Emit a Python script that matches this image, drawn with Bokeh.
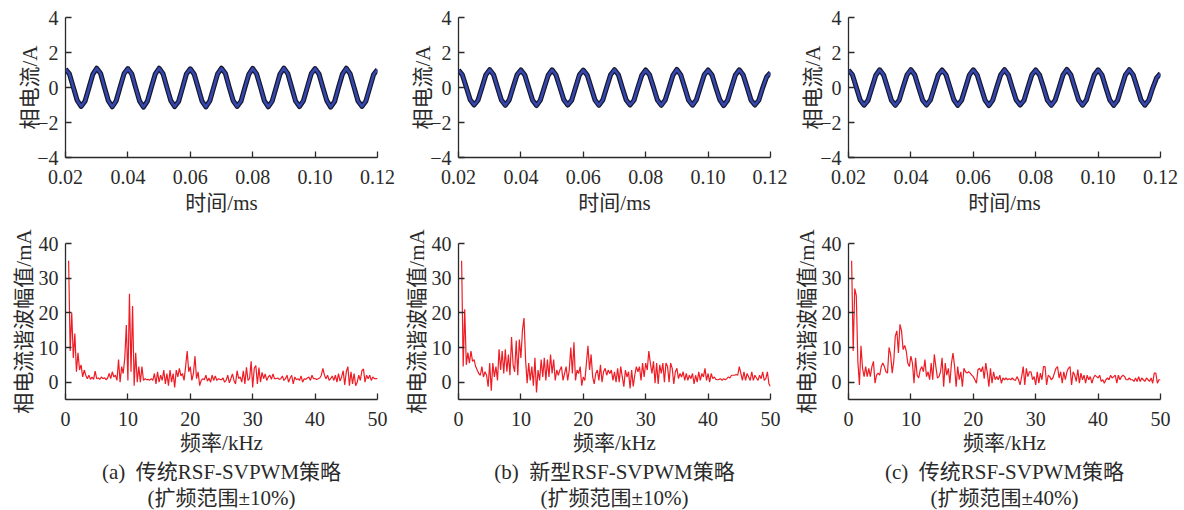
from bokeh.plotting import figure
from bokeh.layouts import column, row
from bokeh.models import Range1d, FixedTicker, Title
from bokeh.embed import file_html
from bokeh.resources import INLINE

# ---------------- data ----------------
time_ticks = [0.02, 0.04, 0.06, 0.08, 0.10, 0.12]
time_tick_labels = ["0.02", "0.04", "0.06", "0.08", "0.10", "0.12"]
current_ticks = [-4, -2, 0, 2, 4]
current_tick_labels = ["\u22124", "\u22122", "0", "2", "4"]
freq_ticks = [0, 10, 20, 30, 40, 50]
freq_tick_labels = ["0", "10", "20", "30", "40", "50"]
amp_ticks = [0, 10, 20, 30, 40]
amp_tick_labels = ["0", "10", "20", "30", "40"]

# sample grids (time in axis units, frequency in kHz)
t = [0.02 + 0.00125 * i for i in range(81)]
f = [0.5 + 0.25 * i for i in range(199)]

wave_a = [
    1.05, 0.78, 0.02, -0.74, -1.08, -0.79, -0.03, 0.75,
    1.10, 0.80, 0.00, -0.77, -1.10, -0.76, 0.02, 0.78,
    1.08, 0.77, -0.02, -0.78, -1.12, -0.78, 0.00, 0.76,
    1.10, 0.79, 0.01, -0.75, -1.09, -0.80, -0.02, 0.77,
    1.07, 0.76, 0.00, -0.78, -1.11, -0.77, 0.01, 0.78,
    1.10, 0.80, -0.01, -0.76, -1.08, -0.79, 0.00, 0.75,
    1.09, 0.78, 0.02, -0.77, -1.10, -0.78, -0.01, 0.77,
    1.11, 0.79, 0.00, -0.78, -1.09, -0.76, 0.01, 0.78,
    1.08, 0.77, -0.01, -0.75, -1.12, -0.80, 0.00, 0.76,
    1.10, 0.78, 0.01, -0.77, -1.08, -0.79, -0.02, 0.74,
    1.02]
wave_b = [
    1.00, 0.72, 0.02, -0.70, -1.00, -0.73, -0.02, 0.71,
    1.02, 0.73, 0.00, -0.72, -1.02, -0.71, 0.01, 0.72,
    1.00, 0.71, -0.02, -0.73, -1.03, -0.72, 0.00, 0.70,
    1.01, 0.72, 0.01, -0.70, -1.00, -0.74, -0.01, 0.72,
    0.99, 0.71, 0.00, -0.72, -1.02, -0.71, 0.01, 0.73,
    1.02, 0.73, -0.01, -0.71, -1.00, -0.73, 0.00, 0.70,
    1.00, 0.72, 0.02, -0.72, -1.02, -0.72, -0.01, 0.71,
    1.03, 0.72, 0.00, -0.73, -1.01, -0.70, 0.01, 0.72,
    1.00, 0.71, -0.01, -0.70, -1.03, -0.73, 0.00, 0.71,
    1.01, 0.72, 0.01, -0.72, -1.00, -0.73, -0.02, 0.60,
    0.85]
wave_c = [
    1.00, 0.73, 0.01, -0.71, -1.01, -0.74, -0.02, 0.70,
    1.01, 0.72, 0.00, -0.73, -1.02, -0.72, 0.02, 0.72,
    1.02, 0.71, -0.01, -0.72, -1.00, -0.71, 0.00, 0.71,
    1.00, 0.73, 0.02, -0.70, -1.02, -0.73, -0.01, 0.72,
    1.01, 0.72, 0.00, -0.72, -1.03, -0.72, 0.01, 0.71,
    1.02, 0.72, -0.02, -0.71, -1.00, -0.74, 0.00, 0.72,
    1.00, 0.71, 0.01, -0.73, -1.02, -0.72, -0.01, 0.72,
    1.03, 0.73, 0.00, -0.72, -1.01, -0.71, 0.02, 0.71,
    1.01, 0.72, -0.01, -0.71, -1.02, -0.73, 0.00, 0.72,
    1.02, 0.72, 0.01, -0.72, -1.01, -0.72, -0.03, 0.55,
    0.80]

spec_a = [
    35, 9,
    20, 7, 14, 3,
    8.5, 3.5, 5, 1.5,
    3.5, 2, 1, 2,
    0.8, 1.5, 0.8, 3.2,
    1, 1.2, 0.8, 1.5,
    1, 1.3, 0.7, 1.2,
    2.5, 1, 3, 1.5,
    2, 0.5, 6.5, 0,
    4.5, 2.5, 7, 16.5,
    0.5, 25.5, 3, 22,
    -1, 8.5, 0, 4.5,
    0, 4.5, 0.5, 1,
    0.7, 0.8, 0.6, 1,
    0.5, 2.5, -0.5, 3,
    0, 2, 0.5, 3.5,
    -0.5, 2.5, -1, 3.5,
    0, 2.5, -1.5, 3.5,
    1.5, 4, 1.8, 2.5,
    0.5, 4.5, 9, 3,
    4.5, 0.5, 2.5, 7.5,
    1, 3, -1, 0.5,
    1, 0.7, 2, 0.3,
    1.2, 0, 2, 0.5,
    1.8, 0.5, 1, 0.8,
    0.7, 1.2, 0, 0.5,
    2, -0.2, 1, 2.4,
    0.5, -0.5, 3.3, 1,
    1.5, 0, 3.3, -0.5,
    4.3, 0.5, 1, 6,
    -1.5, 4, 4.8, -0.5,
    4.2, 0, 2.8, 1,
    2.4, 0.5, 1.5, 2,
    0.8, 2.4, 1, 1,
    1.2, 0.8, 1, 1.8,
    0.5, 1, 2, 0,
    1.2, 2, -0.5, 1.5,
    0.7, 1, 0.5, 1.8,
    0, 1, 0.8, 1.2,
    1.5, 0.5, 2, 1,
    1, 0.8, 1, 1.2,
    2, 4, 2, 1,
    2, 0.5, 1, 1.8,
    0.5, 2, 0, 2.5,
    0.3, 1.5, 3.3, -0.8,
    3, 4.5, -1, 3,
    -0.5, 2.5, -1, 0,
    2, 0.5, 3.3, 3.8,
    0, 2, 1, 2,
    0.5, 1.5, 1, 1,
    1]

spec_b = [
    35, 4.5,
    21, 5, 8.5, 5.5,
    9, 6, 6.5, 4.5,
    3.5, 2.5, 2, 4.5,
    1.5, 3, 2, -1.3,
    5.5, -2.5, 5.5, 1.5,
    4.5, 0.5, 9.5, 3.5,
    9, 2.5, 9.5, 3,
    8, 2, 13, 5,
    3, 12, 2, 12.3,
    7, 15, 18.5, 6.5,
    -0.3, 5.5, 0.5, 4.5,
    -1, 7, -3, 3.5,
    0.5, 6.5, 1.5, 7,
    0.5, 6.5, 1.5, 8,
    2.5, 6.5, 0.5, 3.5,
    2, 3.5, 4.5, 0.5,
    2.5, 4.5, 0.5, 3.5,
    10, 2.5, 11.5, 0.5,
    3.5, 2.5, 4.5, -1,
    1.5, 0.5, 5.5, 10.5,
    3.5, 8, 1.5, -0.5,
    2.5, 3.5, 0.5, 5,
    0, 3, 4, 2,
    3.5, 2.5, 3.5, 0.5,
    3, 0, 4, 0,
    4.5, 1.5, -1.3, 3.5,
    1.5, 3, -1.8, 3.5,
    -1.2, 2, 4.5, 3,
    4.5, 0.5, 5.5, 1.5,
    5.5, 3.5, 9, 5.5,
    2.5, 6, -0.3, 5.5,
    -0.5, 5, 2.5, 5.5,
    0, 5.5, 4.5, 0,
    5.5, 4, -0.5, 3,
    4, 1, 2.5, 1.5,
    3, 0.5, 2.5, 0.5,
    2, 1, 2.5, -0.5,
    2, 0, 3, 0.5,
    2.5, 1.5, 4, 0.5,
    2.5, 0, 2.5, 1,
    1.5, 0.8, 0.7, 0.8,
    1, 0.5, 1, 0.7,
    1, 1.5, 1.2, 2,
    2, 2, 2.2, 2,
    4.5, 2.5, 0.5, 3,
    0.5, 2.5, 1.5, 0.5,
    3, 0.5, 2, 1.2,
    0.5, 2, 1, 3,
    0.5, 1, 3, -0.5,
    -1.2]

spec_c = [
    35, 9,
    27, 25, 6, -0.8,
    10.5, 4, 1.6, 4.5,
    1.6, 4, 1.6, 4.5,
    6, -0.3, 2, 2.6,
    2, 4.5, 5.5, 4.5,
    3, 2.6, 10, 8,
    2.6, 6, 13.3, 14.8,
    8.4, 16.7, 14.8, 9.4,
    10.6, 9, 5.5, 4.5,
    7.5, 5.5, -0.3, 7,
    2, 1.2, 3.6, 4.5,
    3, 6.5, 1.6, 3,
    0.7, 5.5, 0.7, 8,
    4.5, 1.2, 1.6, 3,
    7, -1.3, 5.5, 2,
    4, -0.3, 5.5, 8.4,
    4.5, -1.3, 4.5, 0.7,
    3, -1.3, 4, 3,
    2.6, 3, 2.6, 2,
    1.6, 0.7, -0.3, 3.6,
    4, 3, 4.5, 1,
    5.5, 2.6, -1.3, 4,
    -0.3, 3, 0.7, 1.6,
    0.7, 2, -0.3, 1.2,
    0.7, 1.2, 0.7, 1,
    0.7, 1.2, 0.7, 0.5,
    1.6, 0.7, -0.8, 1.6,
    4.5, -0.8, 4, 1.6,
    3, 3, 0.7, 1.6,
    -0.8, 3, -0.3, 2.6,
    0.7, 4.5, 4.5, -0.8,
    2, 1.6, 0.7, 1.2,
    2.6, 4, 4.5, 1.2,
    3, -0.3, 3, 0.7,
    3, 4, 4.5, -0.8,
    3, 2, 0.2, 3.6,
    -0.3, 2.6, 0.7, 2,
    -0.3, 2, 0.7, 1.6,
    -0.3, 1.2, 2, 1.6,
    1.2, 2, 0.2, 0.7,
    -0.3, 0.7, 1.2, 0.7,
    2, 1.2, 1.6, 2,
    -0.3, 2, 0.7, 1.6,
    2, 1.6, 0.7, 0.7,
    1.2, 0.7, 0.7, 0.2,
    1.2, 0.2, 1.6, 0.2,
    1.2, 0.7, 0.2, 1.2,
    0.7, 0.2, 1.2, -0.3,
    2.6, 2.6, -0.3, 0.7,
    0.7]

captions = [
    ("(a)\u00a0\u00a0传统RSF-SVPWM策略", "(扩频范围±10%)"),
    ("(b)\u00a0\u00a0新型RSF-SVPWM策略", "(扩频范围±10%)"),
    ("(c)\u00a0\u00a0传统RSF-SVPWM策略", "(扩频范围±40%)"),
]
time_label = "时间/ms"
current_label = "相电流/A"
freq_label = "频率/kHz"
amp_label = "相电流谐波幅值/mA"

# ---------------- styling ----------------
SERIF = "Liberation Serif"
MIXED = "Liberation Serif, Noto Sans CJK SC"
INK = "#2a2a2a"

widths = [395, 392, 391]
borders_lr = [(65, 18), (63, 17), (61, 18)]


def make_fig(width, bl, br, height, bt, bb, xr, yr, xt, xtl, yt, ytl, xlabel, ylabel,
             x_lab_standoff, y_lab_standoff):
    p = figure(width=width, height=height,
               x_range=Range1d(*xr), y_range=Range1d(*yr),
               output_backend="svg", toolbar_location=None, tools="",
               min_border_left=bl, min_border_right=br,
               min_border_top=bt, min_border_bottom=bb)
    p.outline_line_color = None
    p.grid.visible = False
    p.background_fill_color = "white"
    p.border_fill_color = "white"
    for ax, ticks, labels, lab in ((p.xaxis[0], xt, xtl, xlabel), (p.yaxis[0], yt, ytl, ylabel)):
        ax.ticker = FixedTicker(ticks=ticks)
        ax.major_label_overrides = {tk: lb for tk, lb in zip(ticks, labels)}
        ax.major_tick_in = 6
        ax.major_tick_out = 0
        ax.minor_tick_line_color = None
        ax.axis_line_color = INK
        ax.axis_line_width = 1.3
        ax.major_tick_line_color = INK
        ax.major_tick_line_width = 1.3
        ax.major_label_text_font = SERIF
        ax.major_label_text_font_size = "20px"
        ax.major_label_text_color = INK
        ax.axis_label = lab
        ax.axis_label_text_font = MIXED
        ax.axis_label_text_font_size = "21px"
        ax.axis_label_text_font_style = "normal"
        ax.axis_label_text_color = INK
    p.xaxis[0].major_label_standoff = 12
    p.xaxis[0].axis_label_standoff = x_lab_standoff
    p.yaxis[0].major_label_standoff = 7
    p.yaxis[0].axis_label_standoff = y_lab_standoff
    return p


top_row = []
bottom_row = []
waves = [wave_a, wave_b, wave_c]
specs = [spec_a, spec_b, spec_c]
for i in range(3):
    bl, br = borders_lr[i]
    pt = make_fig(widths[i], bl, br, 227, 17, 70, (0.02, 0.12), (-4, 4),
                  time_ticks, time_tick_labels, current_ticks, current_tick_labels,
                  time_label, current_label, 4, -8)
    pt.line(t, waves[i], line_color="#16162c", line_width=5.0, line_join="round")
    pt.line(t, waves[i], line_color="#3447ad", line_width=2.6, line_join="round")
    top_row.append(pt)

    pb = make_fig(widths[i], bl, br, 283, 16, 111, (0, 50), (-5, 40),
                  freq_ticks, freq_tick_labels, amp_ticks, amp_tick_labels,
                  freq_label, amp_label, 2, 0)
    pb.line(f, specs[i], line_color="#ee1d25", line_width=1.2)
    for txt in captions[i]:
        pb.add_layout(Title(text=txt, align="center", text_font=MIXED,
                            text_font_size="21px", text_font_style="normal",
                            text_color=INK, standoff=0), "below")
    bottom_row.append(pb)

layout = column(row(*top_row), row(*bottom_row))
open("out.html", "w").write(file_html(layout, INLINE))
